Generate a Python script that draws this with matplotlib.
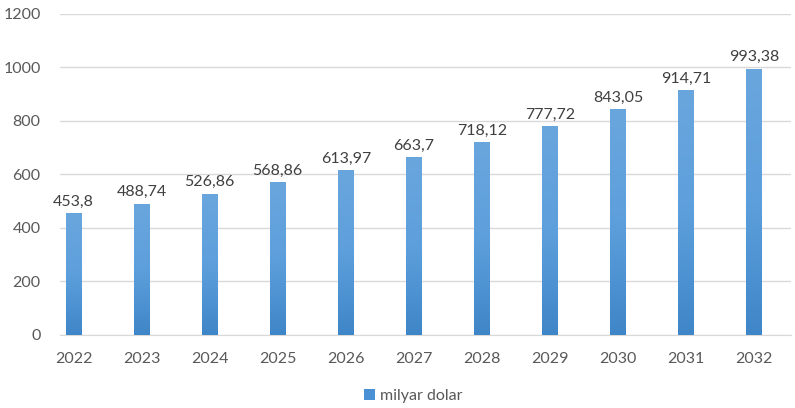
import numpy as np
import matplotlib.pyplot as plt
from matplotlib.colors import LinearSegmentedColormap

years = ['2022', '2023', '2024', '2025', '2026', '2027', '2028', '2029', '2030', '2031', '2032']
values = [453.8, 488.74, 526.86, 568.86, 613.97, 663.7, 718.12, 777.72, 843.05, 914.71, 993.38]
labels = ['453,8', '488,74', '526,86', '568,86', '613,97', '663,7', '718,12', '777,72', '843,05', '914,71', '993,38']

plt.rcParams['font.family'] = ['Lato', 'DejaVu Sans']
txt = '#595959'

fig = plt.figure(figsize=(7.95, 4.08), dpi=100)
ax = fig.add_axes([0.0755, 0.179, 0.92, 0.787])

x = np.arange(len(years))
bars = ax.bar(x, values, width=0.23, color='#4a90d4', zorder=3, label='milyar dolar')

# vertical gradient over each bar (lighter top, darker bottom)
grad = np.linspace(0, 1, 256).reshape(-1, 1)
cmap = LinearSegmentedColormap.from_list('b', ['#3f86c8', '#5d9fdc', '#6aa6de'])
for b in bars:
    x0, w, h = b.get_x(), b.get_width(), b.get_height()
    ax.imshow(grad, extent=[x0, x0 + w, 0, h], origin='lower', aspect='auto', cmap=cmap, zorder=4)

for xi, v, lab in zip(x, values, labels):
    ax.text(xi, v + 18, lab, ha='center', va='bottom', fontsize=11.5, color='#404040', zorder=5)

ax.set_xlim(-0.2, 10.55)
ax.set_ylim(0, 1200)
ax.set_yticks(range(0, 1201, 200))
ax.set_xticks(x)
ax.set_xticklabels(years)
ax.tick_params(axis='both', length=0, labelsize=11.5, labelcolor=txt)
ax.tick_params(axis='x', pad=12)
ax.tick_params(axis='y', pad=14)
ax.grid(axis='y', color='#d9d9d9', linewidth=1, zorder=0)
for s in ['top', 'right', 'left']:
    ax.spines[s].set_visible(False)
ax.spines['bottom'].set_color('#d9d9d9')

leg = fig.legend(handles=[bars], labels=['milyar dolar'], loc='center', bbox_to_anchor=(0.52, 0.03),
                 frameon=False, fontsize=11.5, handlelength=0.7, handleheight=0.7, handletextpad=0.3)
for t in leg.get_texts():
    t.set_color(txt)

fig.savefig('out.png', dpi=100)
